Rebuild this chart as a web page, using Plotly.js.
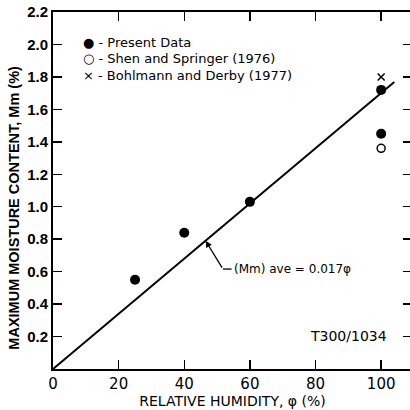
<!DOCTYPE html>
<html>
<head>
<meta charset="utf-8">
<script src="https://cdn.plot.ly/plotly-3.0.1.min.js"></script>
<style>
html,body{margin:0;padding:0;overflow:hidden;background:#fff;}
#chart{width:412px;height:410px;}
</style>
</head>
<body>
<div id="chart"></div>
<script>
// Data
const presentX = [25, 40, 60, 100, 100];
const presentY = [0.55, 0.84, 1.03, 1.72, 1.45];
const shenX = [100];
const shenY = [1.36];
const bohlX = [100];
const bohlY = [1.80];
const fitX = [0, 104];
const fitY = [0, 1.768];
const xTicks = [0, 20, 40, 60, 80, 100];
const xTickText = ['0', '20', '40', '60', '80', '100'];
const yTicks = [0.2, 0.4, 0.6, 0.8, 1.0, 1.2, 1.4, 1.6, 1.8, 2.0, 2.2];
const yTickText = ['0.2', '0.4', '0.6', '0.8', '1.0', '1.2', '1.4', '1.6', '1.8', '2.0', '2.2'];
const legendItems = ['● - Present Data', '○ - Shen and Springer (1976)', '× - Bohlmann and Derby (1977)'];
const fitLabel = '(Mm) ave = 0.017φ';
const specimenLabel = 'T300/1034';
const xTitle = 'RELATIVE HUMIDITY, φ (%)';
const yTitle = 'MAXIMUM MOISTURE CONTENT, Mm (%)';

const F = 'DejaVu Sans, Liberation Sans, sans-serif';
const FL = 'Liberation Sans, Arial, sans-serif';

const traces = [
  {x: fitX, y: fitY, mode: 'lines', line: {color: '#000', width: 2}, hoverinfo: 'skip'},
  {x: presentX, y: presentY, mode: 'markers', marker: {symbol: 'circle', size: 10, color: '#000'}},
  {x: shenX, y: shenY, mode: 'markers', marker: {symbol: 'circle-open', size: 8, color: '#000', line: {width: 1.5}}},
  {x: bohlX, y: bohlY, mode: 'markers', marker: {symbol: 'x-thin-open', size: 7, color: '#000', line: {width: 1.5}}}
];

const legY = [2.015, 1.916, 1.811];
const annotations = legendItems.map((t, i) => ({
  x: 8.4, y: legY[i], xref: 'x', yref: 'y', text: t, showarrow: false,
  xanchor: 'left', yanchor: 'middle', font: {family: F, size: 13, color: '#000'}
}));
annotations.push({
  x: 46.5, y: 0.79, xref: 'x', yref: 'y', ax: 51.8, ay: 0.616, axref: 'x', ayref: 'y',
  text: '', showarrow: true, arrowhead: 2, arrowsize: 1, arrowwidth: 1.3, arrowcolor: '#000', standoff: 0
});
annotations.push({
  x: 54.6, y: 0.616, xref: 'x', yref: 'y', text: fitLabel, showarrow: false,
  xanchor: 'left', yanchor: 'middle', font: {family: F, size: 12, color: '#000'}
});
annotations.push({
  x: 102.5, y: 0.205, xref: 'x', yref: 'y', text: specimenLabel, showarrow: false,
  xanchor: 'right', yanchor: 'middle', font: {family: F, size: 14, color: '#000'}
});
annotations.push({
  x: -0.1086, y: 0.452, xref: 'paper', yref: 'paper', text: yTitle, showarrow: false,
  textangle: -90, xanchor: 'center', yanchor: 'middle',
  font: {family: FL, size: 14.5, color: '#000', weight: 'bold'}
});

const layout = {
  width: 412, height: 410,
  margin: {l: 53, r: 0, t: 12, b: 41},
  paper_bgcolor: '#fff', plot_bgcolor: '#fff',
  showlegend: false,
  xaxis: {
    range: [0, 109.4], tickvals: xTicks, ticktext: xTickText,
    ticks: 'inside', ticklen: 9, tickwidth: 1.5, tickcolor: '#000',
    showline: true, linewidth: 2, linecolor: '#000', mirror: 'ticks',
    showgrid: false, zeroline: false,
    tickfont: {family: F, size: 15, color: '#000'},
    title: {text: xTitle, font: {family: F, size: 14, color: '#000'}, standoff: 2}
  },
  yaxis: {
    range: [0, 2.2], tickvals: yTicks, ticktext: yTickText,
    ticks: 'inside', ticklen: 9, tickwidth: 1.5, tickcolor: '#000',
    showline: true, linewidth: 2, linecolor: '#000', mirror: 'ticks',
    showgrid: false, zeroline: false,
    tickfont: {family: FL, size: 15, color: '#000', weight: 'bold'}
  },
  shapes: [
    {type: 'line', xref: 'x', yref: 'y', x0: 51.8, y0: 0.616, x1: 54.4, y1: 0.616, line: {color: '#000', width: 1.3}}
  ],
  annotations: annotations
};

Plotly.newPlot('chart', traces, layout, {staticPlot: true, displayModeBar: false});
</script>
</body>
</html>
